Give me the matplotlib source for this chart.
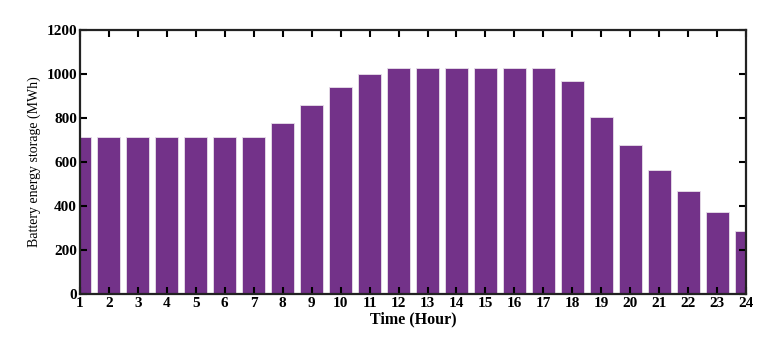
import numpy as np
import matplotlib.pyplot as plt

hours = list(range(1, 25))
storage = [713, 713, 713, 713, 713, 713, 713, 777, 859, 939, 1001, 1026,
           1026, 1026, 1026, 1026, 1026, 968, 806, 677, 562, 470, 374, 285]

plt.rcParams['font.family'] = ['Liberation Serif', 'DejaVu Serif']

fig = plt.figure(figsize=(7.67, 3.52), dpi=100)
ax = fig.add_axes([0.104, 0.165, 0.869, 0.75])

ax.bar(hours, storage, width=0.8, color='#733289', edgecolor='#e8e0ea', linewidth=0.6)

ax.set_xlim(1, 24)
ax.set_ylim(0, 1200)
ax.set_xticks(hours)
ax.set_yticks(np.arange(0, 1201, 200))
ax.tick_params(direction='in', top=True, right=True, length=5, width=1.5,
               labelsize=11, pad=2)
for lab in ax.get_xticklabels() + ax.get_yticklabels():
    lab.set_fontweight('bold')
for s in ax.spines.values():
    s.set_linewidth(1.6)
    s.set_color('#222222')

ax.set_xlabel('Time (Hour)', fontsize=11.5, fontweight='bold', labelpad=1)
ax.set_ylabel('Battery energy storage (MWh)', fontsize=10, labelpad=4)

fig.savefig('out.png', dpi=100, facecolor='white')
